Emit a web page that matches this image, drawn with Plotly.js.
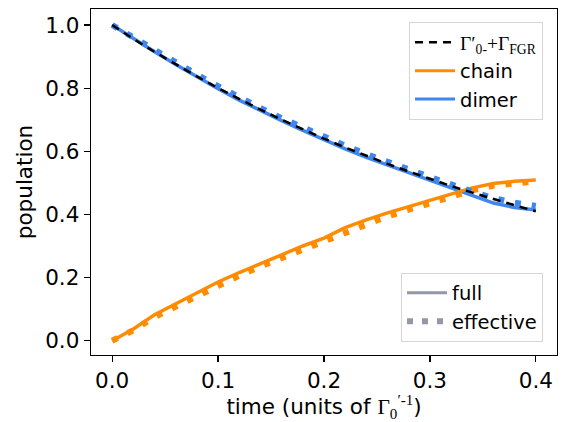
<!DOCTYPE html>
<html>
<head>
<meta charset="utf-8">
<script src="https://cdn.plot.ly/plotly-3.0.1.min.js"></script>
<style>html,body{margin:0;padding:0;background:#fff;}#chart{width:567px;height:422px;}</style>
</head>
<body>
<div id="chart"></div>
<script>
// time grid (units of Γ'_0^{-1})
const time = [0.00,0.02,0.04,0.06,0.08,0.10,0.12,0.14,0.16,0.18,0.20,0.22,0.24,0.26,0.28,0.30,0.32,0.34,0.36,0.38,0.40];
// Γ'_0- + Γ_FGR decay (black dashed)
const gammaDecay = [1.000,0.956,0.915,0.875,0.837,0.800,0.765,0.732,0.700,0.669,0.640,0.612,0.585,0.560,0.536,0.512,0.490,0.469,0.448,0.429,0.410];
// dimer population
const dimerFull = [1.000,0.957,0.915,0.875,0.836,0.798,0.762,0.728,0.697,0.666,0.636,0.608,0.581,0.557,0.533,0.509,0.485,0.459,0.436,0.422,0.414];
const dimerEffective = [1.000,0.960,0.920,0.881,0.843,0.806,0.770,0.737,0.705,0.675,0.646,0.618,0.591,0.566,0.542,0.518,0.495,0.472,0.452,0.437,0.427];
// chain population
const chainFull = [0.000,0.037,0.082,0.116,0.150,0.186,0.216,0.245,0.272,0.300,0.325,0.358,0.383,0.405,0.425,0.444,0.464,0.484,0.498,0.505,0.509];
const chainEffective = [0.000,0.033,0.075,0.109,0.142,0.176,0.206,0.235,0.262,0.290,0.316,0.344,0.371,0.394,0.415,0.436,0.456,0.476,0.491,0.500,0.505];

const xTicks = [0.0,0.1,0.2,0.3,0.4];
const yTicks = [0.0,0.2,0.4,0.6,0.8,1.0];

const orange = '#ff8c00', blue = '#3f86ef', gray = '#9298a4';
const dotDash = '6px,11px';

const traces = [
  {x: time, y: dimerFull, mode:'lines', line:{color:blue, width:3.5}, showlegend:false},
  {x: time, y: chainFull, mode:'lines', line:{color:orange, width:3.5}, showlegend:false},
  {x: time, y: dimerEffective, mode:'lines', line:{color:blue, width:6, dash:dotDash}, showlegend:false},
  {x: time, y: chainEffective, mode:'lines', line:{color:orange, width:6, dash:dotDash}, showlegend:false},
  {x: time, y: gammaDecay, mode:'lines', line:{color:'#000', width:2.5, dash:'8px,6px'},
   name:"<span style=\"font-family:'Liberation Serif'\">Γ′<sub>0-</sub>+Γ<sub>FGR</sub></span>", legend:'legend', legendrank:1},
  {x:[null], y:[null], mode:'lines', line:{color:orange, width:3}, name:'chain', legend:'legend', legendrank:2},
  {x:[null], y:[null], mode:'lines', line:{color:blue, width:3}, name:'dimer', legend:'legend', legendrank:3},
  {x:[null], y:[null], mode:'lines', line:{color:gray, width:3}, name:'full', legend:'legend2', legendrank:1},
  {x:[null], y:[null], mode:'lines', line:{color:gray, width:6, dash:'6px,9px'}, name:'effective', legend:'legend2', legendrank:2}
];

const font = {family:'DejaVu Sans', size:21.5, color:'#000'};
const legendBase = {
  bgcolor:'rgba(255,255,255,0.9)', bordercolor:'#d6d6d6', borderwidth:1,
  font:{family:'DejaVu Sans', size:19.5, color:'#000'},
  xanchor:'right', yanchor:'top', itemwidth:40, tracegroupgap:0
};

const layout = {
  width:567, height:422,
  margin:{l:91, r:10, t:9, b:67},
  paper_bgcolor:'#fff', plot_bgcolor:'#fff',
  font: font,
  showlegend:true,
  xaxis:{
    range:[-0.02,0.42], tickvals:xTicks, ticktext:xTicks.map(v=>v.toFixed(1)),
    ticks:'outside', ticklen:6, tickwidth:1.2, tickcolor:'#000',
    tickfont:font,
    showline:true, linecolor:'#000', linewidth:1.3, mirror:true,
    showgrid:false, zeroline:false,
    title:{text:"time (units of <span style=\"font-family:'Liberation Serif'\">Γ<sub>0</sub><sup>′-1</sup></span>)", font:font, standoff:4}
  },
  yaxis:{
    range:[-0.0453,1.0507], tickvals:yTicks, ticktext:yTicks.map(v=>v.toFixed(1)),
    ticks:'outside', ticklen:6, tickwidth:1.2, tickcolor:'#000',
    tickfont:font,
    showline:true, linecolor:'#000', linewidth:1.3, mirror:true,
    showgrid:false, zeroline:false,
    title:{text:'population', font:font, standoff:6}
  },
  legend: Object.assign({}, legendBase, {x:0.970, y:0.962}),
  legend2: Object.assign({}, legendBase, {x:0.970, y:0.238})
};

Plotly.newPlot('chart', traces, layout, {displayModeBar:false, staticPlot:true});
</script>
</body>
</html>
